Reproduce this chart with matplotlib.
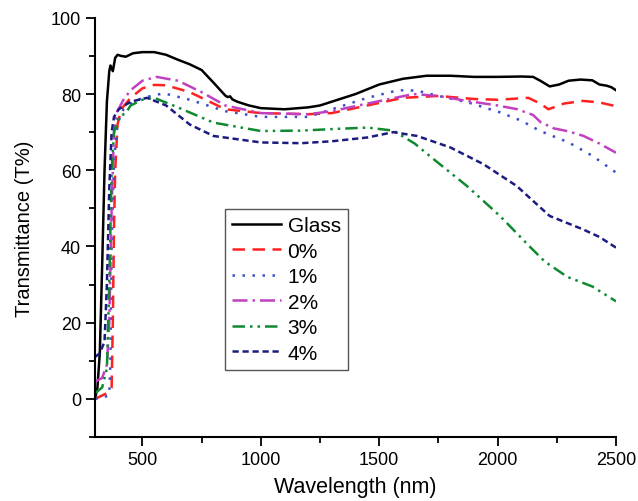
import numpy as np
import matplotlib
matplotlib.use("Agg")
import matplotlib.pyplot as plt

plt.rcParams['font.family'] = ['Liberation Sans', 'DejaVu Sans']

# wavelength (nm) / transmittance (%)
glass_x = [300, 310, 320, 330, 340, 350, 360, 365, 375, 385, 395, 410, 430, 460, 500, 550, 600, 650, 700,
           750, 800, 850, 860, 870, 880, 900, 950, 1000, 1100, 1200, 1250, 1300, 1400, 1500, 1600, 1700, 1800,
           1900, 2000, 2100, 2150, 2180, 2220, 2260, 2300, 2350, 2400, 2430, 2460, 2480, 2500]
glass_y = [0, 3, 12, 35, 60, 78, 86, 87.5, 86, 89.5, 90.3, 90, 89.8, 90.7, 91, 91, 90.3, 89, 87.8,
           86.3, 83, 79.6, 79.2, 79.4, 78.6, 78, 77, 76.3, 76, 76.5, 77, 78, 80, 82.5, 84, 84.8, 84.8,
           84.5, 84.5, 84.6, 84.5, 83.5, 82, 82.5, 83.5, 83.8, 83.6, 82.5, 82.2, 81.8, 81]

p0_x = [300, 350, 370, 375, 380, 385, 395, 410, 450, 500, 550, 600, 700, 850, 1000, 1200, 1300, 1450,
        1600, 1750, 1900, 2000, 2130, 2180, 2215, 2280, 2360, 2430, 2500]
p0_y = [0, 1.5, 3, 20, 45, 60, 72, 76, 79, 81.5, 82.4, 82.3, 80.5, 76, 75, 74.7, 75, 77,
        79, 79.5, 78.7, 78.5, 79, 77.5, 76, 77.5, 78.2, 77.8, 76.8]

p1_x = [300, 340, 360, 365, 370, 380, 390, 400, 420, 450, 500, 590, 700, 850, 1000, 1200, 1300, 1450,
        1580, 1660, 1750, 1870, 2010, 2100, 2180, 2300, 2400, 2500]
p1_y = [0, 0.5, 1, 10, 40, 62, 70, 73, 76, 77.5, 79, 80.2, 78.5, 75.5, 74, 74, 76, 79,
        81, 80.9, 79.5, 77.9, 75.2, 73, 70.3, 67.3, 63.8, 59.4]

p2_x = [300, 330, 350, 360, 370, 380, 390, 420, 450, 500, 560, 650, 750, 850, 1000, 1200, 1300, 1450,
        1645, 1750, 1870, 2000, 2084, 2150, 2182, 2237, 2300, 2363, 2430, 2500]
p2_y = [4.5, 5.5, 9, 20, 50, 70, 75, 78.5, 81, 83.5, 84.5, 83.5, 80.5, 77, 75, 74.7, 75.5, 77.5,
        80, 79.5, 78.2, 77, 76, 74.5, 72.6, 71, 70.2, 69, 67, 64.6]

p3_x = [300, 330, 350, 360, 370, 380, 400, 430, 450, 500, 550, 650, 800, 1000, 1170, 1300, 1450, 1560,
        1650, 1730, 1870, 2010, 2140, 2200, 2295, 2400, 2500]
p3_y = [1.5, 3, 8, 30, 60, 70, 74, 75, 77, 78.5, 79, 76.5, 72.5, 70.3, 70.4, 70.8, 71.2, 70.4,
        67, 62.9, 55.9, 48, 39.7, 36, 32, 29.5, 25.6]

p4_x = [300, 320, 340, 350, 360, 370, 380, 400, 450, 520, 600, 700, 800, 1000, 1170, 1300, 1450, 1560,
        1660, 1800, 1940, 2080, 2220, 2360, 2430, 2500]
p4_y = [11, 12, 15, 30, 55, 70, 74, 76, 78, 79, 77, 72, 69, 67.3, 67.1, 67.6, 68.6, 70,
        69, 66, 61.6, 55.9, 48, 44.5, 42.5, 39.7]

fig = plt.figure(figsize=(6.38, 5.02), dpi=100)
ax = fig.add_axes([0.149, 0.1275, 0.8165, 0.835])

ax.plot(glass_x, glass_y, color='black', lw=1.8, label='Glass')
ax.plot(p0_x, p0_y, color='#ff2020', lw=1.8, ls=(0, (5, 3)), label='0%')
ax.plot(p1_x, p1_y, color='#3a4fc8', lw=1.8, ls=(0, (1, 3)), label='1%')
ax.plot(p2_x, p2_y, color='#c040c0', lw=1.8, ls=(0, (6, 2, 1, 2)), label='2%')
ax.plot(p3_x, p3_y, color='#108a30', lw=1.8, ls=(0, (5, 2, 1, 2, 1, 2)), label='3%')
ax.plot(p4_x, p4_y, color='#1c1c80', lw=1.8, ls=(0, (2.5, 1.5)), label='4%')

ax.set_xlim(300, 2500)
ax.set_ylim(-10, 100)
ax.set_xticks([500, 1000, 1500, 2000, 2500])
ax.set_xticks([750, 1250, 1750, 2250], minor=True)
ax.set_yticks([0, 20, 40, 60, 80, 100])
ax.set_yticks([-10, 10, 30, 50, 70, 90], minor=True)
ax.tick_params(which='major', direction='out', length=6.5, width=1.3, labelsize=13)
ax.tick_params(which='minor', direction='out', length=4, width=1.3)
for s in ['top', 'right']:
    ax.spines[s].set_visible(False)
for s in ['left', 'bottom']:
    ax.spines[s].set_linewidth(1.5)

ax.set_xlabel('Wavelength (nm)', fontsize=15.5, labelpad=6)
ax.set_ylabel('Transmittance (T%)', fontsize=14.5, labelpad=12)

leg = ax.legend(loc='upper left', bbox_to_anchor=(0.2495, 0.544), borderaxespad=0, fontsize=15,
                handlelength=2.35, labelspacing=0.31, handletextpad=0.3, borderpad=0.35,
                fancybox=False, edgecolor='#555555', framealpha=1)
leg.get_frame().set_linewidth(1.0)

fig.savefig('out.png', dpi=100)
